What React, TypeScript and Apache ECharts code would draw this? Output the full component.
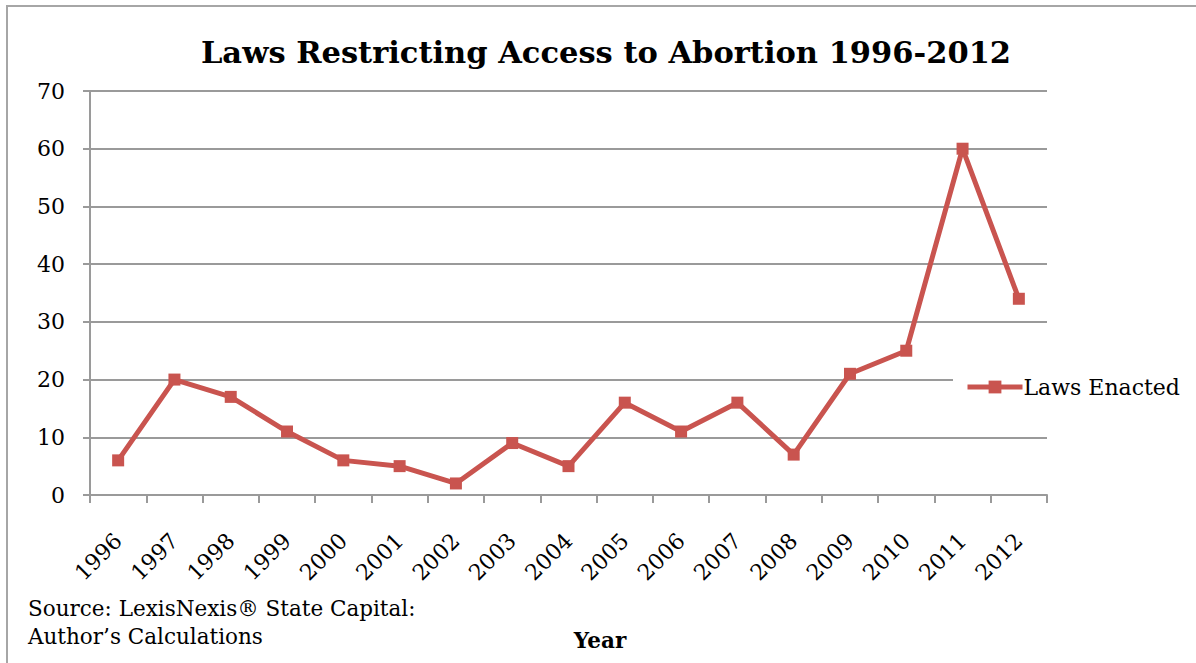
import React, { useEffect, useRef } from "react";
import * as echarts from "echarts";

const years = ["1996","1997","1998","1999","2000","2001","2002","2003","2004","2005","2006","2007","2008","2009","2010","2011","2012"];
const lawsEnacted = [6, 20, 17, 11, 6, 5, 2, 9, 5, 16, 11, 16, 7, 21, 25, 60, 34];
const seriesName = "Laws Enacted";
const titleText = "Laws Restricting Access to Abortion 1996-2012";
const sourceLines = ["Source: LexisNexis® State Capital:", "Author’s Calculations"];
const xAxisTitle = "Year";

const FONT = "'DejaVu Serif', serif";
const RED = "#C9544F";
const GRAY = "#9a9a9a";

export default function App() {
  const ref = useRef<HTMLDivElement>(null);
  useEffect(() => {
    if (!ref.current) return;
    const chart = echarts.init(ref.current, null, { renderer: "svg" });
    chart.setOption({
      animation: false,
      backgroundColor: "#ffffff",
      textStyle: { fontFamily: FONT },
      grid: { left: 90, right: 149, top: 91, bottom: 168, containLabel: false },
      xAxis: {
        type: "category",
        data: years,
        boundaryGap: true,
        axisLine: { show: true, lineStyle: { color: GRAY, width: 2 } },
        axisTick: { show: true, length: 8, lineStyle: { color: GRAY, width: 2 }, alignWithLabel: false },
        axisLabel: { rotate: 45, fontSize: 22, color: "#000", fontFamily: FONT, margin: 42, interval: 0 },
        splitLine: { show: false },
      },
      yAxis: {
        type: "value",
        min: 0,
        max: 70,
        interval: 10,
        axisLine: { show: true, lineStyle: { color: GRAY, width: 2 } },
        axisTick: { show: true, length: 7, lineStyle: { color: GRAY, width: 2 } },
        axisLabel: { fontSize: 22, color: "#000", fontFamily: FONT, margin: 25 },
        splitLine: { show: true, lineStyle: { color: GRAY, width: 2 } },
      },
      legend: {
        show: true,
        data: [seriesName],
        orient: "vertical",
        left: 953,
        top: 371,
        padding: [5, 10, 5, 12],
        backgroundColor: "#ffffff",
        itemWidth: 55,
        itemHeight: 16,
        itemGap: 0,
        lineStyle: { width: 5 },
        textStyle: { fontSize: 22, color: "#000", fontFamily: FONT, padding: [0, 0, 0, -4] },
      },
      series: [
        {
          name: seriesName,
          type: "line",
          data: lawsEnacted,
          symbol: "rect",
          symbolSize: 12,
          lineStyle: { color: RED, width: 5 },
          itemStyle: { color: RED },
        },
      ],
      graphic: [
        {
          type: "rect",
          shape: { x: 7, y: 6, width: 1400, height: 900 },
          style: { fill: "none", stroke: "#a6a6a6", lineWidth: 2 },
          silent: true,
          z: -1,
        },
        {
          type: "text",
          x: 606,
          y: 52,
          style: {
            text: titleText,
            fontSize: 30.5,
            fontWeight: "bold",
            fontFamily: FONT,
            fill: "#000",
            textAlign: "center",
            textVerticalAlign: "middle",
          },
        },
        {
          type: "text",
          x: 28,
          y: 608,
          style: {
            text: sourceLines[0],
            fontSize: 21.5,
            fontFamily: FONT,
            fill: "#000",
            textAlign: "left",
            textVerticalAlign: "middle",
          },
        },
        {
          type: "text",
          x: 28,
          y: 636,
          style: {
            text: sourceLines[1],
            fontSize: 21.5,
            fontFamily: FONT,
            fill: "#000",
            textAlign: "left",
            textVerticalAlign: "middle",
          },
        },
        {
          type: "text",
          x: 600,
          y: 640,
          style: {
            text: xAxisTitle,
            fontSize: 21.5,
            fontWeight: "bold",
            fontFamily: FONT,
            fill: "#000",
            textAlign: "center",
            textVerticalAlign: "middle",
          },
        },
      ],
    });
    return () => chart.dispose();
  }, []);
  return (
    <div
      ref={ref}
      style={{ position: "fixed", left: 0, top: 0, width: 1196, height: 663 }}
    />
  );
}
